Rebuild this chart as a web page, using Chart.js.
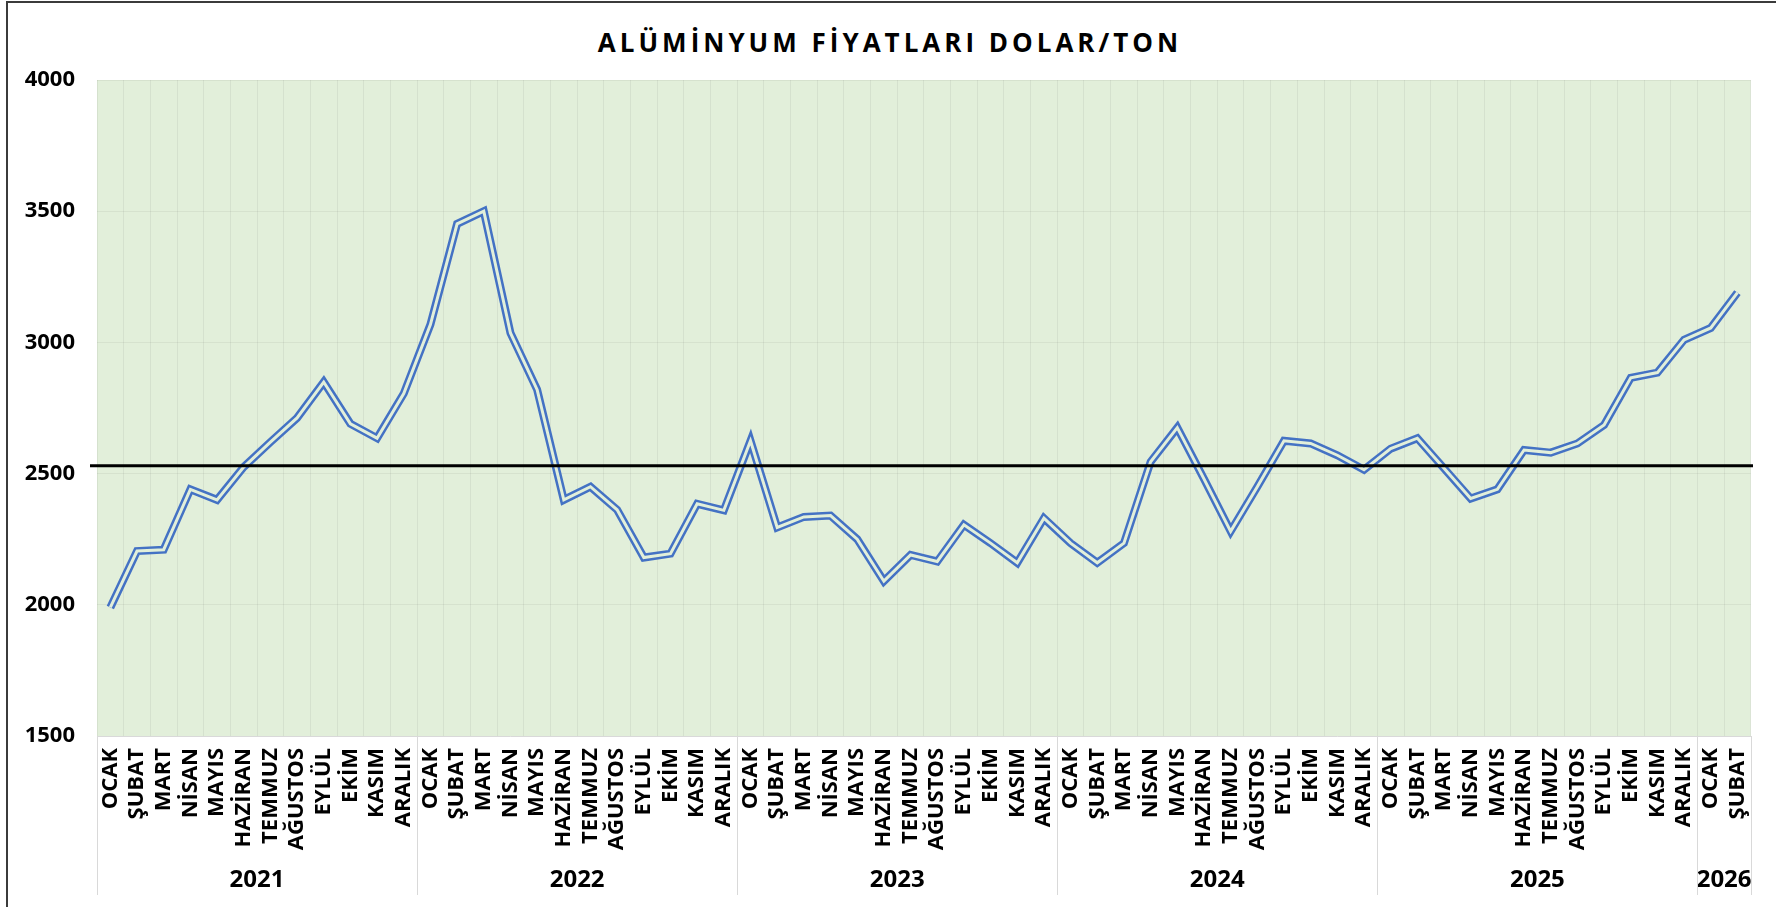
<!DOCTYPE html>
<html><head><meta charset="utf-8">
<script src="https://cdn.jsdelivr.net/npm/chart.js@4.4.1/dist/chart.umd.min.js"></script>
<style>
html,body{margin:0;padding:0;background:#fff;overflow:hidden;}
#wrap{position:relative;width:1776px;height:907px;}
#frame{position:absolute;left:6px;top:1px;width:1820px;height:960px;border-left:2px solid #3b3b3b;border-top:2px solid #3b3b3b;box-sizing:border-box;}
#title{position:absolute;left:0;top:24px;width:1776px;text-align:center;font-family:'Open Sans';font-weight:700;font-size:26px;letter-spacing:4px;padding-left:4px;box-sizing:border-box;color:#000;white-space:nowrap;}
canvas{position:absolute;left:0;top:0;}
</style></head>
<body><div id="wrap"><div id="frame"></div><div id="title">ALÜMİNYUM FİYATLARI DOLAR/TON</div><canvas id="c" width="1776" height="907"></canvas></div>
<script>
const MONTH_NAMES = ['OCAK','ŞUBAT','MART','NİSAN','MAYIS','HAZİRAN','TEMMUZ','AĞUSTOS','EYLÜL','EKİM','KASIM','ARALIK'];
const YEARS = ['2021','2022','2023','2024','2025','2026'];
const YEAR_SPANS = [12,12,12,12,12,2];
const ALUMINUM_PRICE = [
  1990, 2205, 2210, 2440, 2400, 2525, 2620, 2712, 2849, 2690, 2635, 2805,
  3068, 3452, 3500, 3036, 2820, 2400, 2450, 2362, 2180, 2195, 2385, 2360,
  2625, 2295, 2335, 2340, 2250, 2090, 2190, 2165, 2305, 2235, 2160, 2330,
  2235, 2160, 2235, 2545, 2675, 2480, 2280, 2450, 2625, 2615, 2570, 2515,
  2595, 2635, 2520, 2405, 2440, 2590, 2580, 2615, 2685, 2865, 2885, 3010,
  3055, 3190
];
const REFERENCE_LEVEL = 2530;
const Y_MIN = 1500, Y_MAX = 4000, Y_STEP = 500;

const labels = [];
YEAR_SPANS.forEach(n => { for (let i = 0; i < n; i++) labels.push(MONTH_NAMES[i]); });

const FONT = 'Open Sans';

const plotBg = {
  id: 'plotBg',
  beforeDraw(chart) {
    const {ctx, chartArea: a} = chart;
    ctx.save();
    ctx.fillStyle = '#E2EFDA';
    ctx.fillRect(a.left, a.top, a.right - a.left, a.bottom - a.top);
    ctx.restore();
  }
};

const refLine = {
  id: 'refLine',
  afterDatasetsDraw(chart) {
    const {ctx} = chart;
    const y = chart.scales.y.getPixelForValue(REFERENCE_LEVEL);
    ctx.save();
    ctx.strokeStyle = '#000';
    ctx.lineWidth = 3;
    ctx.beginPath();
    ctx.moveTo(90, y);
    ctx.lineTo(1753, y);
    ctx.stroke();
    ctx.restore();
  }
};

const yearAxis = {
  id: 'yearAxis',
  afterDraw(chart) {
    const xs = chart.scales.x;
    const {ctx} = chart;
    const step = xs.getPixelForValue(1) - xs.getPixelForValue(0);
    let idx = 0;
    const edges = [];
    ctx.save();
    ctx.fillStyle = '#000';
    ctx.font = 'bold 24px "' + FONT + '"';
    ctx.textAlign = 'center';
    ctx.textBaseline = 'middle';
    YEAR_SPANS.forEach((n, k) => {
      const l = xs.getPixelForValue(idx) - step / 2;
      const r = xs.getPixelForValue(idx + n - 1) + step / 2;
      edges.push(l);
      ctx.fillText(YEARS[k], (l + r) / 2, 880);
      idx += n;
      if (k === YEAR_SPANS.length - 1) edges.push(r);
    });
    ctx.strokeStyle = '#d9d9d9';
    ctx.lineWidth = 1;
    edges.forEach(e => {
      const xx = Math.round(e) + 0.5;
      ctx.beginPath();
      ctx.moveTo(xx, xs.top);
      ctx.lineTo(xx, 895);
      ctx.stroke();
    });
    ctx.restore();
  }
};

new Chart(document.getElementById('c'), {
  type: 'line',
  data: {
    labels: labels,
    datasets: [
      {data: ALUMINUM_PRICE, order: 2, borderColor: '#4472C4', borderWidth: 8, pointRadius: 0, tension: 0, fill: false, borderJoinStyle: 'miter'},
      {data: ALUMINUM_PRICE, order: 1, borderColor: '#E2EFDA', borderWidth: 3, pointRadius: 0, tension: 0, fill: false, borderJoinStyle: 'miter'}
    ]
  },
  options: {
    responsive: false,
    animation: false,
    devicePixelRatio: 1,
    layout: {padding: {top: 80, right: 19, bottom: 0, left: 0}},
    plugins: {legend: {display: false}, tooltip: {enabled: false}, title: {display: false}},
    scales: {
      x: {
        type: 'category',
        offset: true,
        grid: {offset: true, color: 'rgba(0,0,0,0.055)', drawTicks: false},
        border: {display: true, color: '#d9d9d9'},
        ticks: {autoSkip: false, minRotation: 90, maxRotation: 90, padding: 12, color: '#000',
                font: {family: FONT, weight: 'bold', size: 22}},
        afterFit: s => { s.height = 171; }
      },
      y: {
        min: Y_MIN, max: Y_MAX,
        ticks: {stepSize: Y_STEP, padding: 22, color: '#000', font: {family: FONT, weight: 'bold', size: 22},
                callback: v => String(v)},
        grid: {color: 'rgba(0,0,0,0.05)', drawTicks: false},
        border: {display: false},
        afterFit: s => { s.width = 97; }
      }
    }
  },
  plugins: [plotBg, refLine, yearAxis]
});
</script>
</body></html>
